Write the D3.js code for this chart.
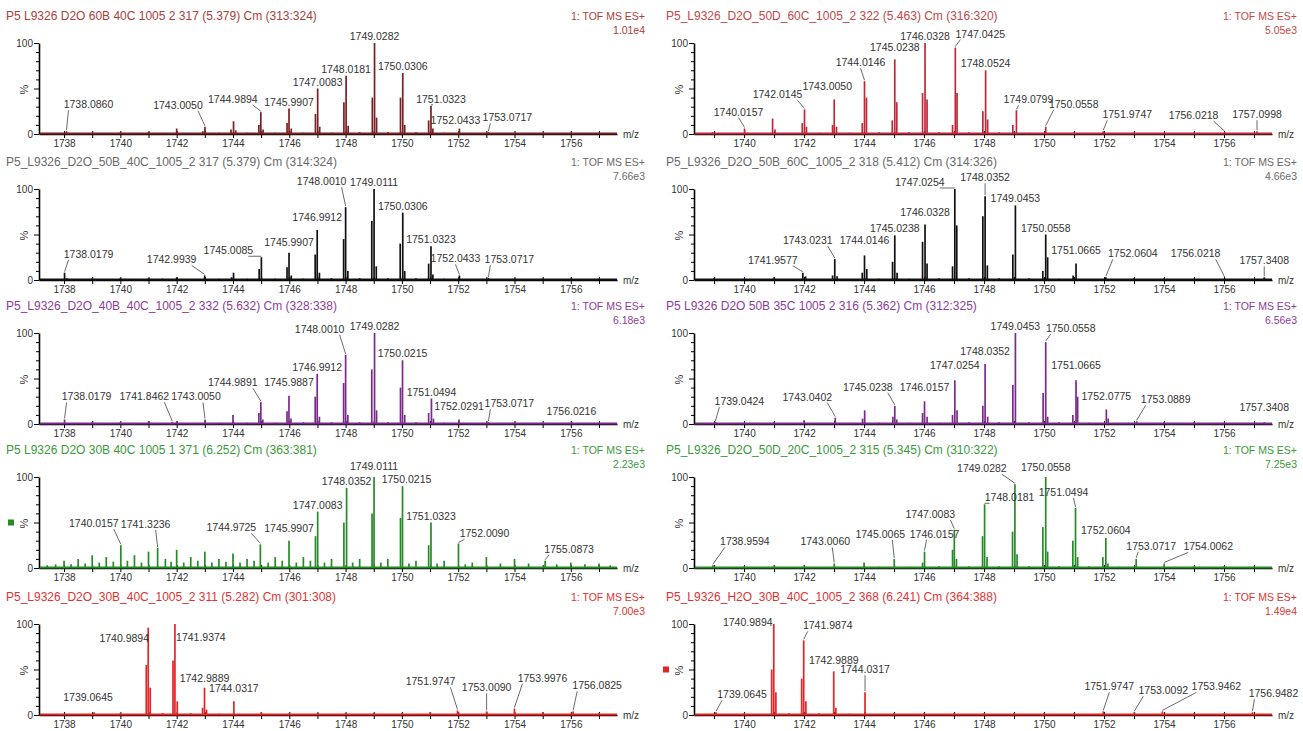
<!DOCTYPE html>
<html>
<head>
<meta charset="utf-8">
<script src="https://cdn.jsdelivr.net/npm/d3@7"></script>
<style>
  body { margin: 0; background: #fff; }
  svg { display: block; }
  text { font-family: "Liberation Sans", Arial, sans-serif; }
</style>
</head>
<body>
<svg id="chart" width="1303" height="731"></svg>
<script>
// ---------- shared text ----------
const acquisition = "1: TOF MS ES+";
const tickLabelsLeft = ["1738", "1740", "1742", "1744", "1746", "1748", "1750", "1752", "1754", "1756"];
const tickLabelsRight = ["1740", "1742", "1744", "1746", "1748", "1750", "1752", "1754", "1756"];
const yTickLabels = ["0", "100"];

// ---------- row 1, left ----------
const titleL1 = "P5 L9326 D2O 60B 40C 1005 2 317 (5.379) Cm (313:324)";
const noteL1 = "1.01e4";
const peaksL1 = [[1737.6,1],[1738.086,3],[1738.5,1],[1739.0,1.5],[1739.6,1],[1740.0,2],[1740.5,1],[1741.0,2],[1741.5,1],
  [1742.0,6],[1742.5,1],[1742.93,3],[1743.005,8],[1743.5,1.5],[1743.93,5],[1744.02,14],[1744.1,4],[1744.5,1.5],
  [1744.92,10],[1744.9894,24],[1745.07,5],[1745.5,1.5],[1745.92,12],[1745.9907,28],[1746.07,6],[1746.5,1.5],
  [1746.93,22],[1747.0083,50],[1747.08,8],[1747.5,1.5],[1747.94,35],[1748.0181,64],[1748.09,9],[1748.5,2],
  [1748.95,40],[1749.0282,100],[1749.1,18],[1749.5,2],[1749.95,40],[1750.0306,67],[1750.1,10],[1750.5,2],
  [1750.95,15],[1751.0323,31],[1751.1,6],[1751.5,1.5],[1752.0433,6],[1752.5,1],[1753.0717,2],[1753.5,1],
  [1754.0,1.5],[1754.6,1],[1755.0,1.5],[1755.5,1],[1756.0,1.5],[1756.6,1],[1757.0,1.5]];
const labelsL1 = ["1738.0860","1743.0050","1744.9894","1745.9907","1747.0083","1748.0181","1749.0282","1750.0306","1751.0323","1752.0433","1753.0717"];

// ---------- row 1, right ----------
const titleR1 = "P5_L9326_D2O_50D_60C_1005_2 322 (5.463) Cm (316:320)";
const noteR1 = "5.05e3";
const peaksR1 = [[1738.6,1],[1738.95,2],[1739.5,1],[1740.0157,6],[1740.1,1.5],[1740.5,1],[1740.95,17],[1741.03,5],[1741.5,1],
  [1741.94,12],[1742.0145,27],[1742.08,8],[1742.5,1.5],[1742.95,10],[1743.005,38],[1743.08,8],[1743.5,1.5],
  [1743.94,12],[1744.0146,58],[1744.08,40],[1744.5,2],[1744.94,15],[1745.0238,82],[1745.09,35],[1745.5,2],
  [1745.95,45],[1746.0328,100],[1746.1,38],[1746.5,2],[1746.95,10],[1747.0425,95],[1747.1,45],[1747.5,2],
  [1747.96,25],[1748.0524,70],[1748.12,16],[1748.5,2],[1748.96,10],[1749.0799,26],[1749.5,1.5],[1750.0558,8],
  [1750.5,1],[1751.0,2],[1751.5,1],[1751.9747,3],[1752.5,1],[1753.0,2],[1753.5,1],[1754.0,1.5],[1754.5,1],
  [1755.0,2],[1755.5,1],[1756.0218,2],[1756.5,1],[1757.0998,3]];
const labelsR1 = ["1740.0157","1742.0145","1743.0050","1744.0146","1745.0238","1746.0328","1747.0425","1748.0524","1749.0799","1750.0558","1751.9747","1756.0218","1757.0998"];

// ---------- row 2, left ----------
const titleL2 = "P5_L9326_D2O_50B_40C_1005_2 317 (5.379) Cm (314:324)";
const noteL2 = "7.66e3";
const peaksL2 = [[1737.5,1],[1738.0179,8],[1738.1,2],[1738.5,1],[1739.0,1.5],[1739.5,1],[1740.0,2],[1740.5,1],[1741.0,2],
  [1741.5,1.5],[1742.0,3],[1742.5,1],[1742.9939,5],[1743.5,1.5],[1743.95,3],[1744.02,8],[1744.5,1.5],[1744.93,12],
  [1745.0085,25],[1745.5,1.5],[1745.92,14],[1745.9907,30],[1746.07,5],[1746.5,1.5],[1746.92,28],[1746.9912,55],
  [1747.07,8],[1747.5,2],[1747.93,45],[1748.001,80],[1748.08,10],[1748.5,2],[1748.93,65],[1749.0111,100],
  [1749.09,15],[1749.5,2],[1749.94,40],[1750.0306,74],[1750.1,10],[1750.5,2],[1750.95,18],[1751.0323,37],
  [1751.1,6],[1751.5,1.5],[1752.0433,5],[1752.5,1],[1753.0717,2],[1753.5,1],[1754.0,1.5],[1754.5,1],[1755.0,1.5],
  [1755.5,1],[1756.0,1.5],[1756.5,1],[1757.0,1.5]];
const labelsL2 = ["1738.0179","1742.9939","1745.0085","1745.9907","1746.9912","1748.0010","1749.0111","1750.0306","1751.0323","1752.0433","1753.0717"];

// ---------- row 2, right ----------
const titleR2 = "P5_L9326_D2O_50B_60C_1005_2 318 (5.412) Cm (314:326)";
const noteR2 = "4.66e3";
const peaksR2 = [[1738.6,1],[1739.0,2],[1739.5,1],[1740.0,1.5],[1740.5,1],[1741.0,3],[1741.5,1],[1741.9577,8],[1742.05,4],
  [1742.5,1],[1742.95,5],[1743.0231,23],[1743.1,4],[1743.5,1],[1743.94,8],[1744.0146,27],[1744.09,12],[1744.5,1.5],
  [1744.95,20],[1745.0238,49],[1745.1,8],[1745.5,1.5],[1745.95,42],[1746.0328,61],[1746.1,18],[1746.5,2],
  [1746.95,15],[1747.0254,100],[1747.09,60],[1747.5,2],[1747.96,70],[1748.0352,92],[1748.11,16],[1748.5,2],
  [1748.96,28],[1749.0453,82],[1749.5,2],[1749.96,10],[1750.0558,50],[1750.12,25],[1750.5,1.5],[1750.97,5],
  [1751.0665,18],[1751.5,1],[1752.0604,3],[1752.5,1],[1753.0,2],[1753.5,1],[1754.0,1.5],[1754.5,1],[1755.0,1.5],
  [1755.5,1],[1756.0218,2],[1756.5,1],[1757.3408,3]];
const labelsR2 = ["1741.9577","1743.0231","1744.0146","1745.0238","1746.0328","1747.0254","1748.0352","1749.0453","1750.0558","1751.0665","1752.0604","1756.0218","1757.3408"];

// ---------- row 3, left ----------
const titleL3 = "P5_L9326_D2O_40B_40C_1005_2 332 (5.632) Cm (328:338)";
const noteL3 = "6.18e3";
const peaksL3 = [[1737.6,1],[1738.0179,5],[1738.5,1],[1739.0,2],[1739.5,1],[1740.0,2],[1740.5,1],[1741.0,3],[1741.5,1],
  [1741.8462,2],[1742.0,3],[1742.5,1],[1743.005,5],[1743.5,1.5],[1744.0,10],[1744.5,1.5],[1744.92,12],[1744.9891,24],
  [1745.06,5],[1745.5,1.5],[1745.92,14],[1745.9887,31],[1746.06,6],[1746.5,2],[1746.92,30],[1746.9912,55],
  [1747.07,8],[1747.5,2],[1747.93,45],[1748.001,76],[1748.08,10],[1748.5,2],[1748.93,60],[1749.0282,100],
  [1749.1,15],[1749.5,2],[1749.95,40],[1750.0215,70],[1750.1,10],[1750.5,2],[1750.95,12],[1751.0494,28],
  [1751.12,6],[1751.5,1.5],[1752.0291,5],[1752.5,1],[1753.0717,2],[1753.5,1],[1754.0,2],[1754.5,1],[1755.0,1.5],
  [1755.5,1],[1756.0216,2],[1756.5,1],[1757.0,1.5]];
const labelsL3 = ["1738.0179","1741.8462","1743.0050","1744.9891","1745.9887","1746.9912","1748.0010","1749.0282","1750.0215","1751.0494","1752.0291","1753.0717","1756.0216"];

// ---------- row 3, right ----------
const titleR3 = "P5 L9326 D2O 50B 35C 1005 2 316 (5.362) Cm (312:325)";
const noteR3 = "6.56e3";
const peaksR3 = [[1738.6,1],[1739.0424,2],[1739.5,1],[1740.0,1.5],[1740.5,1],[1741.0,2],[1741.5,1],[1742.0,4],[1742.5,1],
  [1743.0402,7],[1743.5,1],[1743.95,6],[1744.02,15],[1744.5,1.5],[1744.96,8],[1745.0238,20],[1745.09,5],[1745.5,1.5],
  [1745.95,12],[1746.0157,25],[1746.1,8],[1746.5,1.5],[1746.95,10],[1747.0254,48],[1747.1,15],[1747.5,2],
  [1747.96,20],[1748.0352,66],[1748.12,8],[1748.5,2],[1748.96,43],[1749.0453,100],[1749.5,2],[1749.97,34],
  [1750.0558,90],[1750.12,8],[1750.5,2],[1750.96,10],[1751.0665,48],[1751.12,30],[1751.5,1.5],[1752.0775,16],
  [1752.14,6],[1752.5,1],[1753.0889,3],[1753.5,1],[1754.0,2],[1754.5,1],[1755.0,2],[1755.5,1],[1756.0,1.5],
  [1756.5,1],[1757.3408,2]];
const labelsR3 = ["1739.0424","1743.0402","1745.0238","1746.0157","1747.0254","1748.0352","1749.0453","1750.0558","1751.0665","1752.0775","1753.0889","1757.3408"];

// ---------- row 4, left ----------
const titleL4 = "P5 L9326 D2O 30B 40C 1005 1 371 (6.252) Cm (363:381)";
const noteL4 = "2.23e3";
const peaksL4 = [[1737.4,3],[1737.7,4],[1738.0,8],[1738.25,4],[1738.5,10],[1738.75,5],[1739.0,14],[1739.25,6],[1739.5,12],
  [1739.75,7],[1740.0157,25],[1740.25,8],[1740.5,14],[1740.75,6],[1741.0,18],[1741.3236,22],[1741.6,10],[1741.8,7],
  [1742.0,20],[1742.25,6],[1742.5,12],[1742.75,8],[1743.0,18],[1743.25,6],[1743.5,10],[1743.75,7],[1744.0,16],
  [1744.25,6],[1744.5,10],[1744.75,8],[1744.9725,26],[1745.25,6],[1745.5,12],[1745.75,8],[1745.9907,30],
  [1746.25,6],[1746.5,12],[1746.75,8],[1746.93,35],[1747.0083,62],[1747.25,6],[1747.5,10],[1747.94,50],
  [1748.0352,88],[1748.25,6],[1748.5,10],[1748.94,60],[1749.0111,100],[1749.25,6],[1749.5,10],[1749.95,55],
  [1750.0215,90],[1750.25,5],[1750.5,8],[1750.95,25],[1751.0323,50],[1751.25,5],[1751.5,8],[1752.009,27],
  [1752.25,4],[1752.5,6],[1753.0,12],[1753.5,5],[1754.0,10],[1754.5,5],[1755.0873,8],[1755.5,4],[1756.0,6],
  [1756.5,4],[1757.0,5],[1757.4,3]];
const labelsL4 = ["1740.0157","1741.3236","1744.9725","1745.9907","1747.0083","1748.0352","1749.0111","1750.0215","1751.0323","1752.0090","1755.0873"];

// ---------- row 4, right ----------
const titleR4 = "P5_L9326_D2O_50D_20C_1005_2 315 (5.345) Cm (310:322)";
const noteR4 = "7.25e3";
const peaksR4 = [[1738.6,1],[1738.9594,3],[1739.5,1],[1740.0,2],[1740.5,1],[1741.0,3],[1741.5,1],[1742.0,3],[1742.5,1],
  [1743.006,5],[1743.5,1],[1744.0,6],[1744.5,1.5],[1745.0065,10],[1745.5,1.5],[1745.95,6],[1746.0157,18],[1746.5,2],
  [1746.95,20],[1747.0083,42],[1747.08,10],[1747.5,2],[1747.95,35],[1748.0181,70],[1748.1,12],[1748.5,2],
  [1748.95,40],[1749.0282,92],[1749.1,15],[1749.5,2],[1749.96,45],[1750.0558,100],[1750.12,18],[1750.5,2],
  [1750.96,30],[1751.0494,66],[1751.12,12],[1751.5,2],[1751.96,12],[1752.0604,33],[1752.13,5],[1752.5,1.5],
  [1753.0717,10],[1753.5,1],[1754.0062,5],[1754.5,1],[1755.0,2],[1755.5,1],[1756.0,2],[1756.5,1],[1757.0,1.5]];
const labelsR4 = ["1738.9594","1743.0060","1745.0065","1746.0157","1747.0083","1748.0181","1749.0282","1750.0558","1751.0494","1752.0604","1753.0717","1754.0062"];

// ---------- row 5, left ----------
const titleL5 = "P5_L9326_D2O_30B_40C_1005_2 311 (5.282) Cm (301:308)";
const noteL5 = "7.00e3";
const peaksL5 = [[1737.6,1],[1738.0,1.5],[1738.5,1],[1739.0645,3],[1739.5,1],[1740.0,2],[1740.5,1],[1740.92,55],
  [1740.9894,96],[1741.06,30],[1741.5,2],[1741.87,60],[1741.9374,100],[1742.02,15],[1742.5,2],[1742.92,8],
  [1742.9889,30],[1743.06,6],[1743.5,1.5],[1744.0317,15],[1744.5,1],[1745.0,3],[1745.5,1],[1746.0,2],[1746.5,1],
  [1747.0,2],[1747.5,1],[1748.0,2],[1748.5,1],[1749.0,2],[1749.5,1],[1750.0,2],[1750.5,1],[1751.0,3],[1751.5,1],
  [1751.9747,5],[1752.5,1],[1753.009,4],[1753.5,1],[1753.9976,7],[1754.5,1],[1755.0,3],[1755.5,1],[1756.0825,4],
  [1756.5,1],[1757.0,2]];
const labelsL5 = ["1739.0645","1740.9894","1741.9374","1742.9889","1744.0317","1751.9747","1753.0090","1753.9976","1756.0825"];

// ---------- row 5, right ----------
const titleR5 = "P5_L9326_H2O_30B_40C_1005_2 368 (6.241) Cm (364:388)";
const noteR5 = "1.49e4";
const peaksR5 = [[1738.6,1],[1739.0645,3],[1739.5,1],[1740.0,2],[1740.5,1],[1740.92,50],[1740.9894,100],[1741.06,25],
  [1741.5,2],[1741.92,40],[1741.9874,82],[1742.06,15],[1742.5,2],[1742.9889,48],[1743.06,8],[1743.5,1.5],
  [1744.0317,25],[1744.5,1],[1745.0,2],[1745.5,1],[1746.0,2],[1746.5,1],[1747.0,2],[1747.5,1],[1748.0,2],[1748.5,1],
  [1749.0,2],[1749.5,1],[1750.0,2],[1750.5,1],[1751.0,2],[1751.5,1],[1751.9747,4],[1752.5,1],[1753.0092,3],
  [1753.5,1],[1753.9462,4],[1754.5,1],[1755.0,2],[1755.5,1],[1756.0,2],[1756.5,1],[1756.9482,3]];
const labelsR5 = ["1739.0645","1740.9894","1741.9874","1742.9889","1744.0317","1751.9747","1753.0092","1753.9462","1756.9482"];

// ---------- layout: label nudges in pixels (dx, dy), one per label ----------
const nudgeL1 = [[22,-20],[-27,-15],[-28,-6],[0,0],[0,0],[0,0],[0,0],[0,0],[10,0],[-4,-2],[19,-8]];
const nudgeR1 = [[-6,-10],[-27,-8],[-7,-6],[-4,-12],[0,-5],[0,0],[25,-7],[0,0],[12,-4],[28,-16],[24,-10],[-31,-10],[0,-10]];
const nudgeL2 = [[24,-12],[-33,-9],[-33,0],[0,-4],[0,-6],[-24,-19],[0,0],[0,0],[0,0],[-4,-10],[21,-12]];
const nudgeR2 = [[-30,-6],[-27,-12],[0,-8],[0,0],[0,-5],[-35,0],[0,-12],[0,0],[0,0],[0,-7],[27,-17],[-29,-18],[0,-10]];
const nudgeL3 = [[22,-16],[-28,-19],[-9,-16],[-28,-13],[0,-7],[0,0],[-26,-19],[0,0],[0,0],[0,0],[0,-6],[21,-12],[0,-4]];
const nudgeR3 = [[24,-14],[-28,-14],[-27,-12],[0,-7],[0,-8],[0,-6],[0,0],[25,-7],[0,-8],[0,-6],[29,-15],[0,-8]];
const nudgeL4 = [[-27,-15],[-12,-17],[-29,-10],[0,-6],[0,0],[0,0],[0,-4],[4,0],[0,0],[26,-3],[24,-5]];
const nudgeR4 = [[32,-17],[-9,-15],[-14,-18],[10,-11],[-24,-9],[25,0],[-33,-9],[0,-3],[-12,-9],[0,-1],[15,-6],[44,-10]];
const nudgeL5 = [[-6,-8],[-24,17],[26,20],[0,-3],[0,-6],[-27,-22],[0,-17],[28,-24],[24,-19]];
const nudgeR5 = [[26,-11],[-26,5],[24,-8],[0,-4],[0,-16],[6,-18],[29,-15],[54,-18],[21,-12]];

// ---------- page geometry ----------
const rowBaseline = [134, 280, 424, 568, 715];
const plotHeight = 91;
const columns = [
  { axisX: 39, xEnd: 617, domain: [1737.11, 1757.64], titleX: 6, rightX: 645, tickLabels: tickLabelsLeft },
  { axisX: 694, xEnd: 1272, domain: [1738.33, 1757.6], titleX: 666, rightX: 1297, tickLabels: tickLabelsRight }
];

const panels = [
  { row: 0, col: 0, title: titleL1, note: noteL1, peaks: peaksL1, labels: labelsL1, nudge: nudgeL1, stroke: "#7a1f22", ink: "#a8403c" },
  { row: 0, col: 1, title: titleR1, note: noteR1, peaks: peaksR1, labels: labelsR1, nudge: nudgeR1, stroke: "#c0283a", ink: "#c24848" },
  { row: 1, col: 0, title: titleL2, note: noteL2, peaks: peaksL2, labels: labelsL2, nudge: nudgeL2, stroke: "#111111", ink: "#6a6a6a" },
  { row: 1, col: 1, title: titleR2, note: noteR2, peaks: peaksR2, labels: labelsR2, nudge: nudgeR2, stroke: "#111111", ink: "#6a6a6a" },
  { row: 2, col: 0, title: titleL3, note: noteL3, peaks: peaksL3, labels: labelsL3, nudge: nudgeL3, stroke: "#7b2a8c", ink: "#8b3c9b" },
  { row: 2, col: 1, title: titleR3, note: noteR3, peaks: peaksR3, labels: labelsR3, nudge: nudgeR3, stroke: "#7b2a8c", ink: "#8b3c9b" },
  { row: 3, col: 0, title: titleL4, note: noteL4, peaks: peaksL4, labels: labelsL4, nudge: nudgeL4, stroke: "#268a26", ink: "#3a9a3a", marker: true },
  { row: 3, col: 1, title: titleR4, note: noteR4, peaks: peaksR4, labels: labelsR4, nudge: nudgeR4, stroke: "#268a26", ink: "#3a9a3a" },
  { row: 4, col: 0, title: titleL5, note: noteL5, peaks: peaksL5, labels: labelsL5, nudge: nudgeL5, stroke: "#e42424", ink: "#e03434" },
  { row: 4, col: 1, title: titleR5, note: noteR5, peaks: peaksR5, labels: labelsR5, nudge: nudgeR5, stroke: "#e42424", ink: "#e03434", marker: true }
];

const svg = d3.select("#chart");
const textInk = "#333";

panels.forEach(p => {
  const col = columns[p.col];
  const base = rowBaseline[p.row];
  const x = d3.scaleLinear().domain(col.domain).range([col.axisX, col.xEnd]);
  const y = d3.scaleLinear().domain([0, 100]).range([base, base - plotHeight]);
  const g = svg.append("g");

  // header: file / scan description, acquisition function and full-scale intensity
  const headY = base - 114;
  g.append("text").attr("x", col.titleX).attr("y", headY)
    .attr("font-size", 12).attr("fill", p.ink).text(p.title);
  g.append("text").attr("x", col.rightX).attr("y", headY).attr("text-anchor", "end")
    .attr("font-size", 10.5).attr("fill", p.ink).text(acquisition);
  g.append("text").attr("x", col.rightX).attr("y", headY + 14).attr("text-anchor", "end")
    .attr("font-size", 10.5).attr("fill", p.ink).text(p.note);

  // m/z axis: a tick at every unit, labels on the even masses
  const intTicks = d3.range(Math.ceil(col.domain[0]), Math.floor(col.domain[1]) + 1);
  const shown = new Set(col.tickLabels);
  const xAxis = d3.axisBottom(x).tickValues(intTicks).tickSize(4).tickSizeOuter(0).tickPadding(2)
    .tickFormat(d => shown.has(String(d)) ? String(d) : "");
  const ax = g.append("g").attr("transform", `translate(0,${base})`).call(xAxis);
  ax.select(".domain").attr("stroke", "#000").attr("stroke-width", 1.3);
  ax.selectAll(".tick line").attr("stroke", "#000").attr("y1", -3).attr("y2", 4);
  ax.selectAll(".tick text").attr("font-size", 10).attr("fill", textInk)
    .attr("font-family", '"Liberation Sans", Arial, sans-serif');
  g.append("text").attr("x", col.xEnd + 6).attr("y", base + 4)
    .attr("font-size", 10).attr("fill", textInk).text("m/z");

  // relative intensity axis
  const yAxis = d3.axisLeft(y).tickValues(d3.range(0, 101, 10)).tickSize(3).tickSizeOuter(0).tickPadding(3)
    .tickFormat(d => yTickLabels.includes(String(d)) ? String(d) : "");
  const ay = g.append("g").attr("transform", `translate(${col.axisX},0)`).call(yAxis);
  ay.select(".domain").attr("stroke", "#000").attr("stroke-width", 1.6);
  ay.selectAll(".tick line").attr("stroke", "#000").attr("x2", d => d % 50 === 0 ? -5 : -3);
  ay.selectAll(".tick text").attr("font-size", 10).attr("fill", textInk)
    .attr("font-family", '"Liberation Sans", Arial, sans-serif');
  const y50 = y(50);
  g.append("text").attr("transform", `translate(${col.axisX - 11},${y50 + 1}) rotate(-90)`)
    .attr("text-anchor", "middle").attr("font-size", 11).attr("fill", textInk).text("%");
  if (p.marker) {
    g.append("rect").attr("x", col.axisX - 31).attr("y", y50 - 3).attr("width", 6).attr("height", 6)
      .attr("fill", p.stroke);
  }

  // spectrum baseline and centroid sticks
  g.append("line").attr("x1", x(col.domain[0]) + 1).attr("x2", x(col.domain[1]))
    .attr("y1", base - 0.5).attr("y2", base - 0.5).attr("stroke", p.stroke).attr("stroke-width", 2);
  g.selectAll("line.stick").data(p.peaks).join("line").attr("class", "stick")
    .attr("x1", d => x(d[0])).attr("x2", d => x(d[0]))
    .attr("y1", base).attr("y2", d => y(d[1]))
    .attr("stroke", p.stroke).attr("stroke-width", 1.7);

  // peak annotations, with a leader line where the text is moved off the peak
  p.labels.forEach((lab, i) => {
    const mz = +lab;
    const pk = p.peaks.find(d => Math.abs(d[0] - mz) < 1e-6);
    const px = x(mz);
    const top = y(pk ? pk[1] : 0);
    const [dx, dy] = p.nudge[i];
    const lx = px + dx, ly = top - 3 + dy;
    g.append("text").attr("x", lx).attr("y", ly).attr("text-anchor", "middle")
      .attr("font-size", 10.5).attr("fill", textInk).text(lab);
    if (dy <= 0 && (Math.abs(dx) > 8 || dy < -8)) {
      let sx = lx;
      if (dx < -8) sx = lx + Math.min(20, Math.abs(dx) - 2);
      else if (dx > 8) sx = lx - Math.min(20, dx - 2);
      g.append("line").attr("x1", sx).attr("y1", ly + 2).attr("x2", px).attr("y2", top - 1)
        .attr("stroke", "#444").attr("stroke-width", 0.8);
    }
  });
});
</script>
</body>
</html>
